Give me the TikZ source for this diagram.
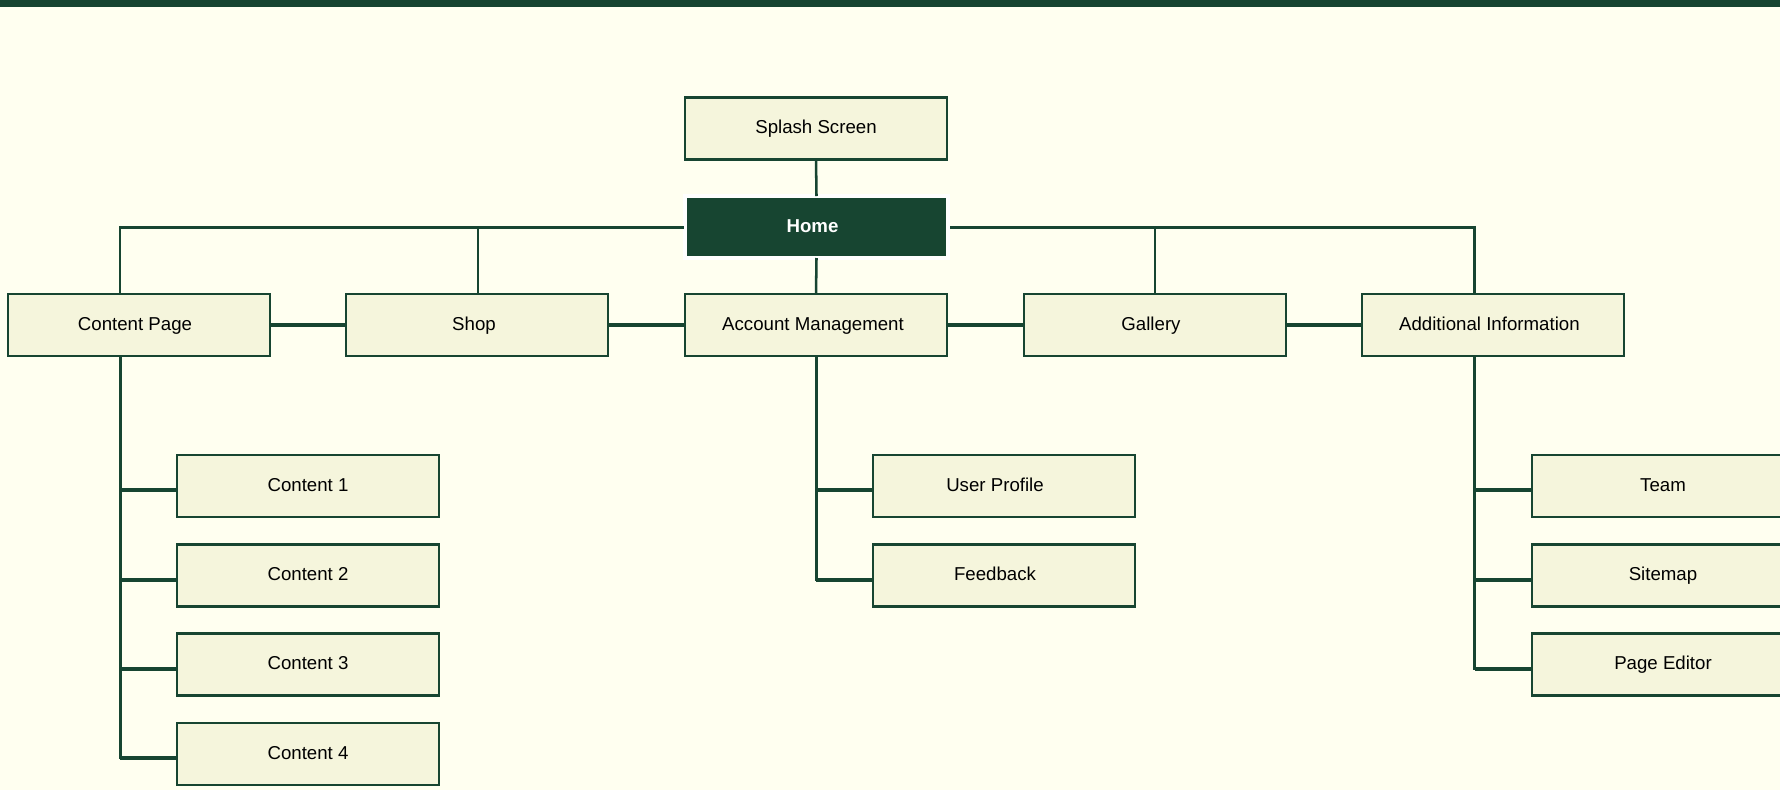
\documentclass[tikz,border=0pt]{standalone}
\usepackage{fontspec}
\setmainfont{Liberation Sans}
\usetikzlibrary{calc}
\definecolor{dkgreen}{HTML}{174531}
\definecolor{boxfill}{HTML}{F5F5DC}
\definecolor{bgivory}{HTML}{FFFFF0}
\newcommand\shl[2]{#2\hspace*{#1}}
\tikzset{
  pagebox/.style={draw=dkgreen, fill=boxfill, line width=1.9pt, minimum width=196.5pt, minimum height=46.5pt, inner sep=0pt, outer sep=0pt, text height=10pt, text depth=2.5pt, font=\fontsize{14pt}{16pt}\selectfont, text=black},
  homebox/.style={draw=white, fill=dkgreen, line width=3pt, minimum width=197.25pt, minimum height=46.5pt, inner sep=0pt, outer sep=0pt, text height=10pt, text depth=2.5pt, font=\fontsize{14pt}{16pt}\selectfont\bfseries, text=white},
  busline/.style={draw=dkgreen, line width=2.25pt},
  dropline/.style={draw=dkgreen, line width=1.9pt},
  rowlink/.style={draw=dkgreen, line width=2.6pt},
  trunkline/.style={draw=dkgreen, line width=2.25pt},
  teeline/.style={draw=dkgreen, line width=2.6pt}
}
\begin{document}
\begin{tikzpicture}[x=0.75pt, y=-0.75pt]
\useasboundingbox (0,0) rectangle (1780,790);
\clip (0,0) rectangle (1780,790);
\fill[bgivory] (0,0) rectangle (1780,790);
\fill[dkgreen] (0,0) rectangle (1780,7);

% nodes
\node[pagebox] (splash) at (816,128.5) {Splash Screen};
\node[homebox] (home) at (816.5,227) {\shl{6pt}{Home}};
\node[pagebox] (cp) at (139,325) {\shl{6pt}{Content Page}};
\node[pagebox] (shop) at (477,325) {\shl{4.5pt}{Shop}};
\node[pagebox] (acct) at (816,325) {\shl{4.5pt}{Account Management}};
\node[pagebox] (gal) at (1155,325) {\shl{6pt}{Gallery}};
\node[pagebox] (add) at (1493,325) {\shl{5.4pt}{Additional Information}};

\node[pagebox] (c1) at (308,486) {Content 1};
\node[pagebox] (c2) at (308,575.5) {Content 2};
\node[pagebox] (c3) at (308,664.5) {Content 3};
\node[pagebox] (c4) at (308,754) {Content 4};

\node[pagebox] (up) at (1004,486) {\shl{13.5pt}{User Profile}};
\node[pagebox] (fb) at (1004,575.5) {\shl{13.5pt}{Feedback}};

\node[pagebox] (team) at (1663,486) {Team};
\node[pagebox] (site) at (1663,575.5) {Sitemap};
\node[pagebox] (pe) at (1663,664.5) {Page Editor};

% junction coordinates
\coordinate (jl) at (120,227);
\coordinate (jr) at (1474.5,227);
\coordinate (tl1) at (120,490);
\coordinate (tl2) at (120,580);
\coordinate (tl3) at (120,669);
\coordinate (tl4) at (120,758);
\coordinate (tm1) at (816,490);
\coordinate (tm2) at (816,580);
\coordinate (tr1) at (1474.5,490);
\coordinate (tr2) at (1474.5,580);
\coordinate (tr3) at (1474.5,669);

% top connectors
\draw[dropline] (splash.south) -- (home.north);
\draw[dropline] (home.south) -- (acct.north);
\draw[busline] (jl) -- ([xshift=-0.75pt]home.west);
\draw[busline] ([xshift=1.5pt]home.east) -- (jr);
\draw[dropline] ([yshift=0.8pt]jl) -- (jl |- cp.north);
\draw[dropline] ([yshift=0.8pt]jr) -- (jr |- add.north);
\draw[dropline] ([xshift=0.75pt]shop.north |- jl) -- ([xshift=0.75pt]shop.north);
\draw[dropline] (gal.north |- jl) -- (gal.north);

% row links
\draw[rowlink] (cp.east) -- (shop.west);
\draw[rowlink] (shop.east) -- (acct.west);
\draw[rowlink] (acct.east) -- (gal.west);
\draw[rowlink] (gal.east) -- (add.west);

% trunks
\draw[trunkline] (cp.south -| tl1) -- ([yshift=-1pt]tl4);
\draw[trunkline] (acct.south) -- ([yshift=-1pt]tm2);
\draw[trunkline] (add.south -| tr1) -- ([yshift=-1pt]tr3);

% tees
\draw[teeline] (tl1) -- (tl1 -| c1.west);
\draw[teeline] (tl2) -- (tl2 -| c2.west);
\draw[teeline] (tl3) -- (tl3 -| c3.west);
\draw[teeline] (tl4) -- (tl4 -| c4.west);
\draw[teeline] (tm1) -- (tm1 -| up.west);
\draw[teeline] (tm2) -- (tm2 -| fb.west);
\draw[teeline] (tr1) -- (tr1 -| team.west);
\draw[teeline] (tr2) -- (tr2 -| site.west);
\draw[teeline] (tr3) -- (tr3 -| pe.west);
\end{tikzpicture}
\end{document}
